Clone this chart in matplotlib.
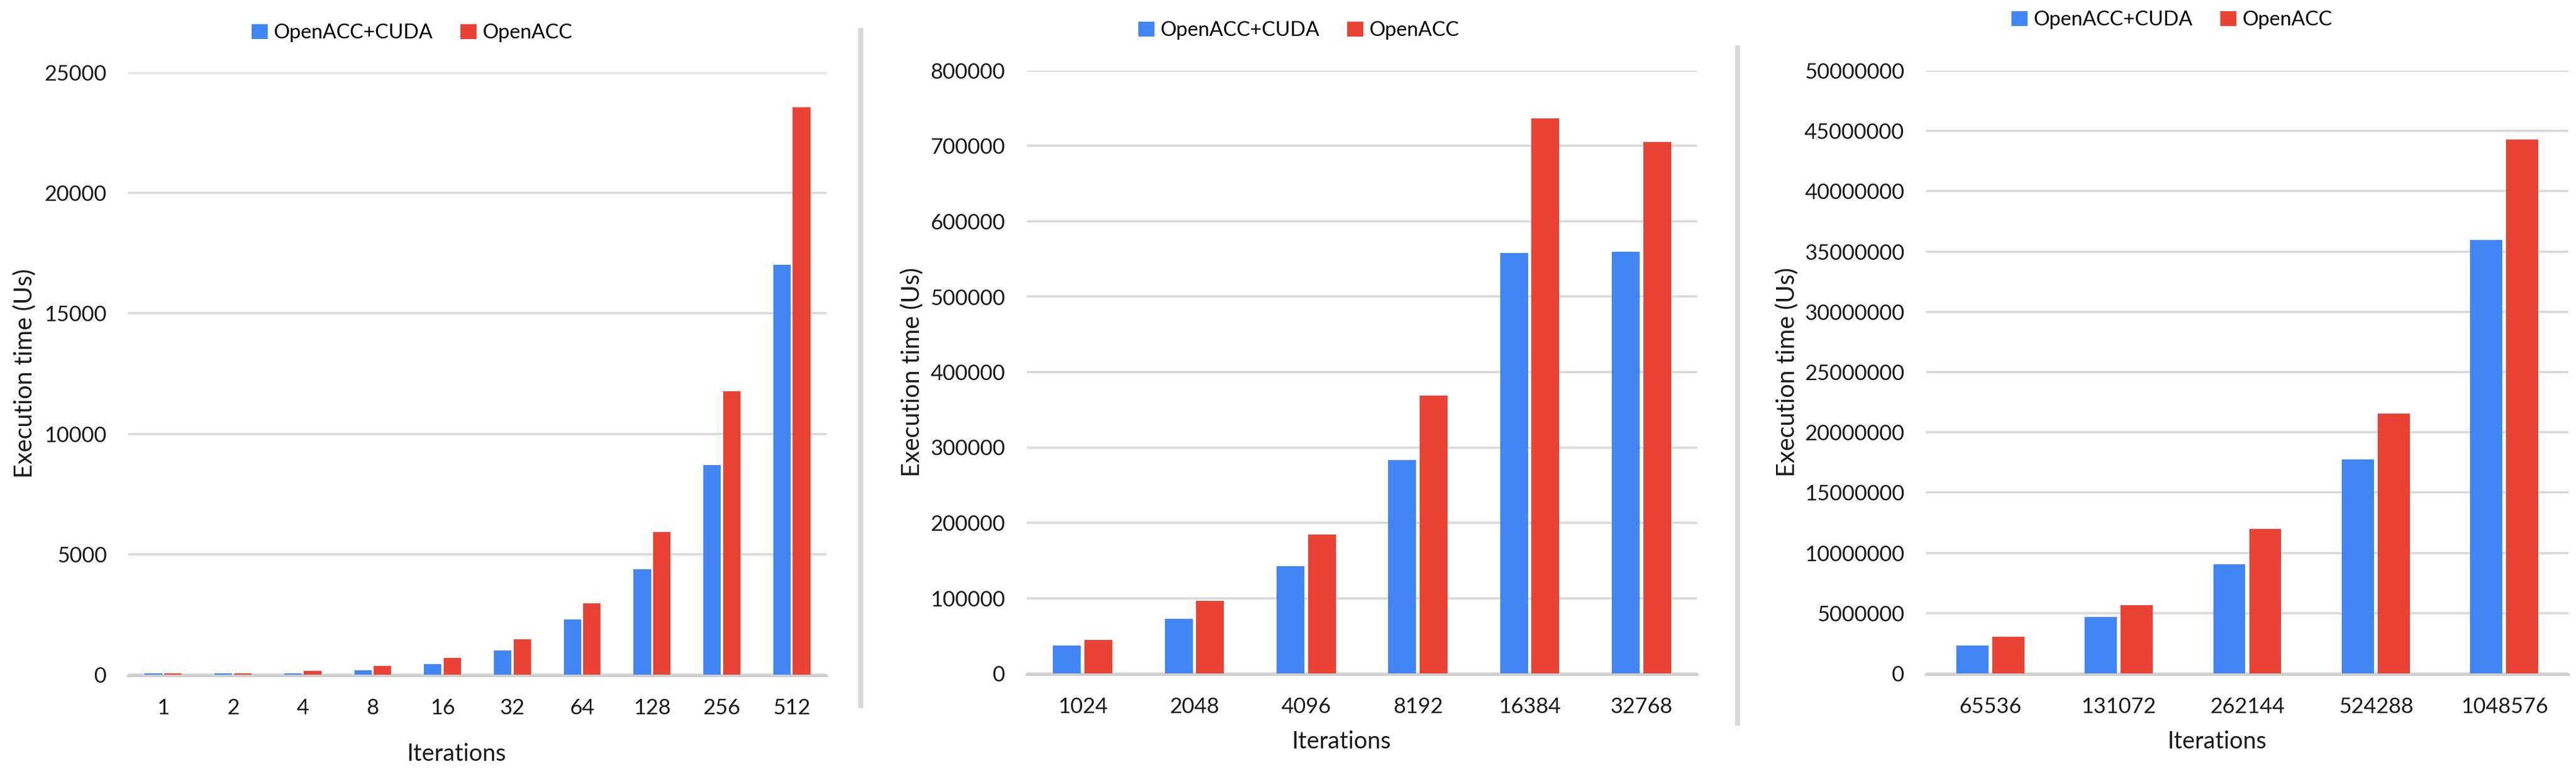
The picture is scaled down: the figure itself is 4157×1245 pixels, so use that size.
import numpy as np
from matplotlib import pyplot as plt
from matplotlib.lines import Line2D

# Mätvärden (exekveringstid i us)
iters_small = ["1", "2", "4", "8", "16", "32", "64", "128", "256", "512"]
cuda_small = [50, 50, 50, 170, 430, 1000, 2290, 4380, 8700, 17020]
acc_small = [50, 50, 150, 370, 690, 1470, 2970, 5930, 11760, 23550]

iters_mid = ["1024", "2048", "4096", "8192", "16384", "32768"]
cuda_mid = [37000, 72500, 142000, 283500, 558000, 560000]
acc_mid = [44500, 96000, 184000, 368500, 736500, 705000]

iters_large = ["65536", "131072", "262144", "524288", "1048576"]
cuda_large = [2330000, 4660000, 9030000, 17730000, 35950000]
acc_large = [3060000, 5680000, 12010000, 21570000, 44280000]

BLUE = "#4285F4"
RED = "#EA4335"
GRID = "#d9d9d9"

plt.rcParams["font.family"] = ["Lato", "DejaVu Sans"]

W, H = 4157, 1245
fig = plt.figure(figsize=(W / 100, H / 100), dpi=100)


def px_box(left, right, top, bottom):
    # pixelkoordinater -> figurkoordinater
    return [left / W, 1 - bottom / H, (right - left) / W, (bottom - top) / H]


def draw_panel(box, labels, cuda, acc, ymax, step, ylab_x, xlab_pos, leg_pos):
    ax = fig.add_axes(box)
    x = np.arange(len(labels))
    ax.bar(x - 0.14, cuda, width=0.25, color=BLUE, label="OpenACC+CUDA", zorder=3)
    ax.bar(x + 0.14, acc, width=0.25, color=RED, label="OpenACC", zorder=3)

    ax.set_xlim(-0.5, len(labels) - 0.5)
    ax.set_ylim(0, ymax)
    ax.set_yticks(np.arange(0, ymax + step, step))
    ax.ticklabel_format(axis="y", style="plain", useOffset=False)
    ax.set_xticks(x)
    ax.set_xticklabels(labels)
    ax.tick_params(axis="both", length=0, labelsize=25, colors="#1a1a1a")
    ax.tick_params(axis="y", pad=25)
    ax.tick_params(axis="x", pad=26)

    ax.set_axisbelow(True)
    ax.yaxis.grid(True, color=GRID, linewidth=2.6)
    for side in ["top", "right", "left"]:
        ax.spines[side].set_visible(False)
    ax.spines["bottom"].set_color("#cfcfcf")
    ax.spines["bottom"].set_linewidth(3.0)
    ax.spines["bottom"].set_position(("outward", 1.5))

    ax.set_ylabel("Execution time (Us)", fontsize=28.5, color="#1a1a1a")
    ax.yaxis.set_label_coords(ylab_x, 0.5)
    ax.yaxis.label.set_va("center")
    ax.set_xlabel("Iterations", fontsize=27.5, color="#1a1a1a")
    ax.xaxis.set_label_coords(xlab_pos[0], xlab_pos[1])
    ax.xaxis.label.set_va("center")

    ax.legend(loc="center", bbox_to_anchor=leg_pos, bbox_transform=fig.transFigure,
              ncol=2, frameon=False, fontsize=23.5, handlelength=0.8, handleheight=0.75,
              handletextpad=0.3, columnspacing=1.35, borderpad=0)
    return ax


draw_panel(px_box(207, 1334, 117, 1088), iters_small, cuda_small, acc_small,
           25000, 5000, -0.148, (0.470, -0.132), (665 / W, 1 - 53 / H))
draw_panel(px_box(1657, 2739, 114, 1086), iters_mid, cuda_mid, acc_mid,
           800000, 100000, -0.171, (0.4695, -0.113), (2096 / W, 1 - 49 / H))
draw_panel(px_box(3108, 4145, 114, 1086), iters_large, cuda_large, acc_large,
           50000000, 5000000, -0.216, (0.453, -0.113), (3505 / W, 1 - 32 / H))

# Grå avdelare mellan panelerna
fig.add_artist(Line2D([1389 / W, 1389 / W], [1 - 49 / H, 1 - 1138 / H],
                      transform=fig.transFigure, color=GRID, linewidth=5.8))
fig.add_artist(Line2D([2804 / W, 2804 / W], [1 - 77 / H, 1 - 1166 / H],
                      transform=fig.transFigure, color=GRID, linewidth=5.8))

fig.savefig("out.png", dpi=100, facecolor="white")
